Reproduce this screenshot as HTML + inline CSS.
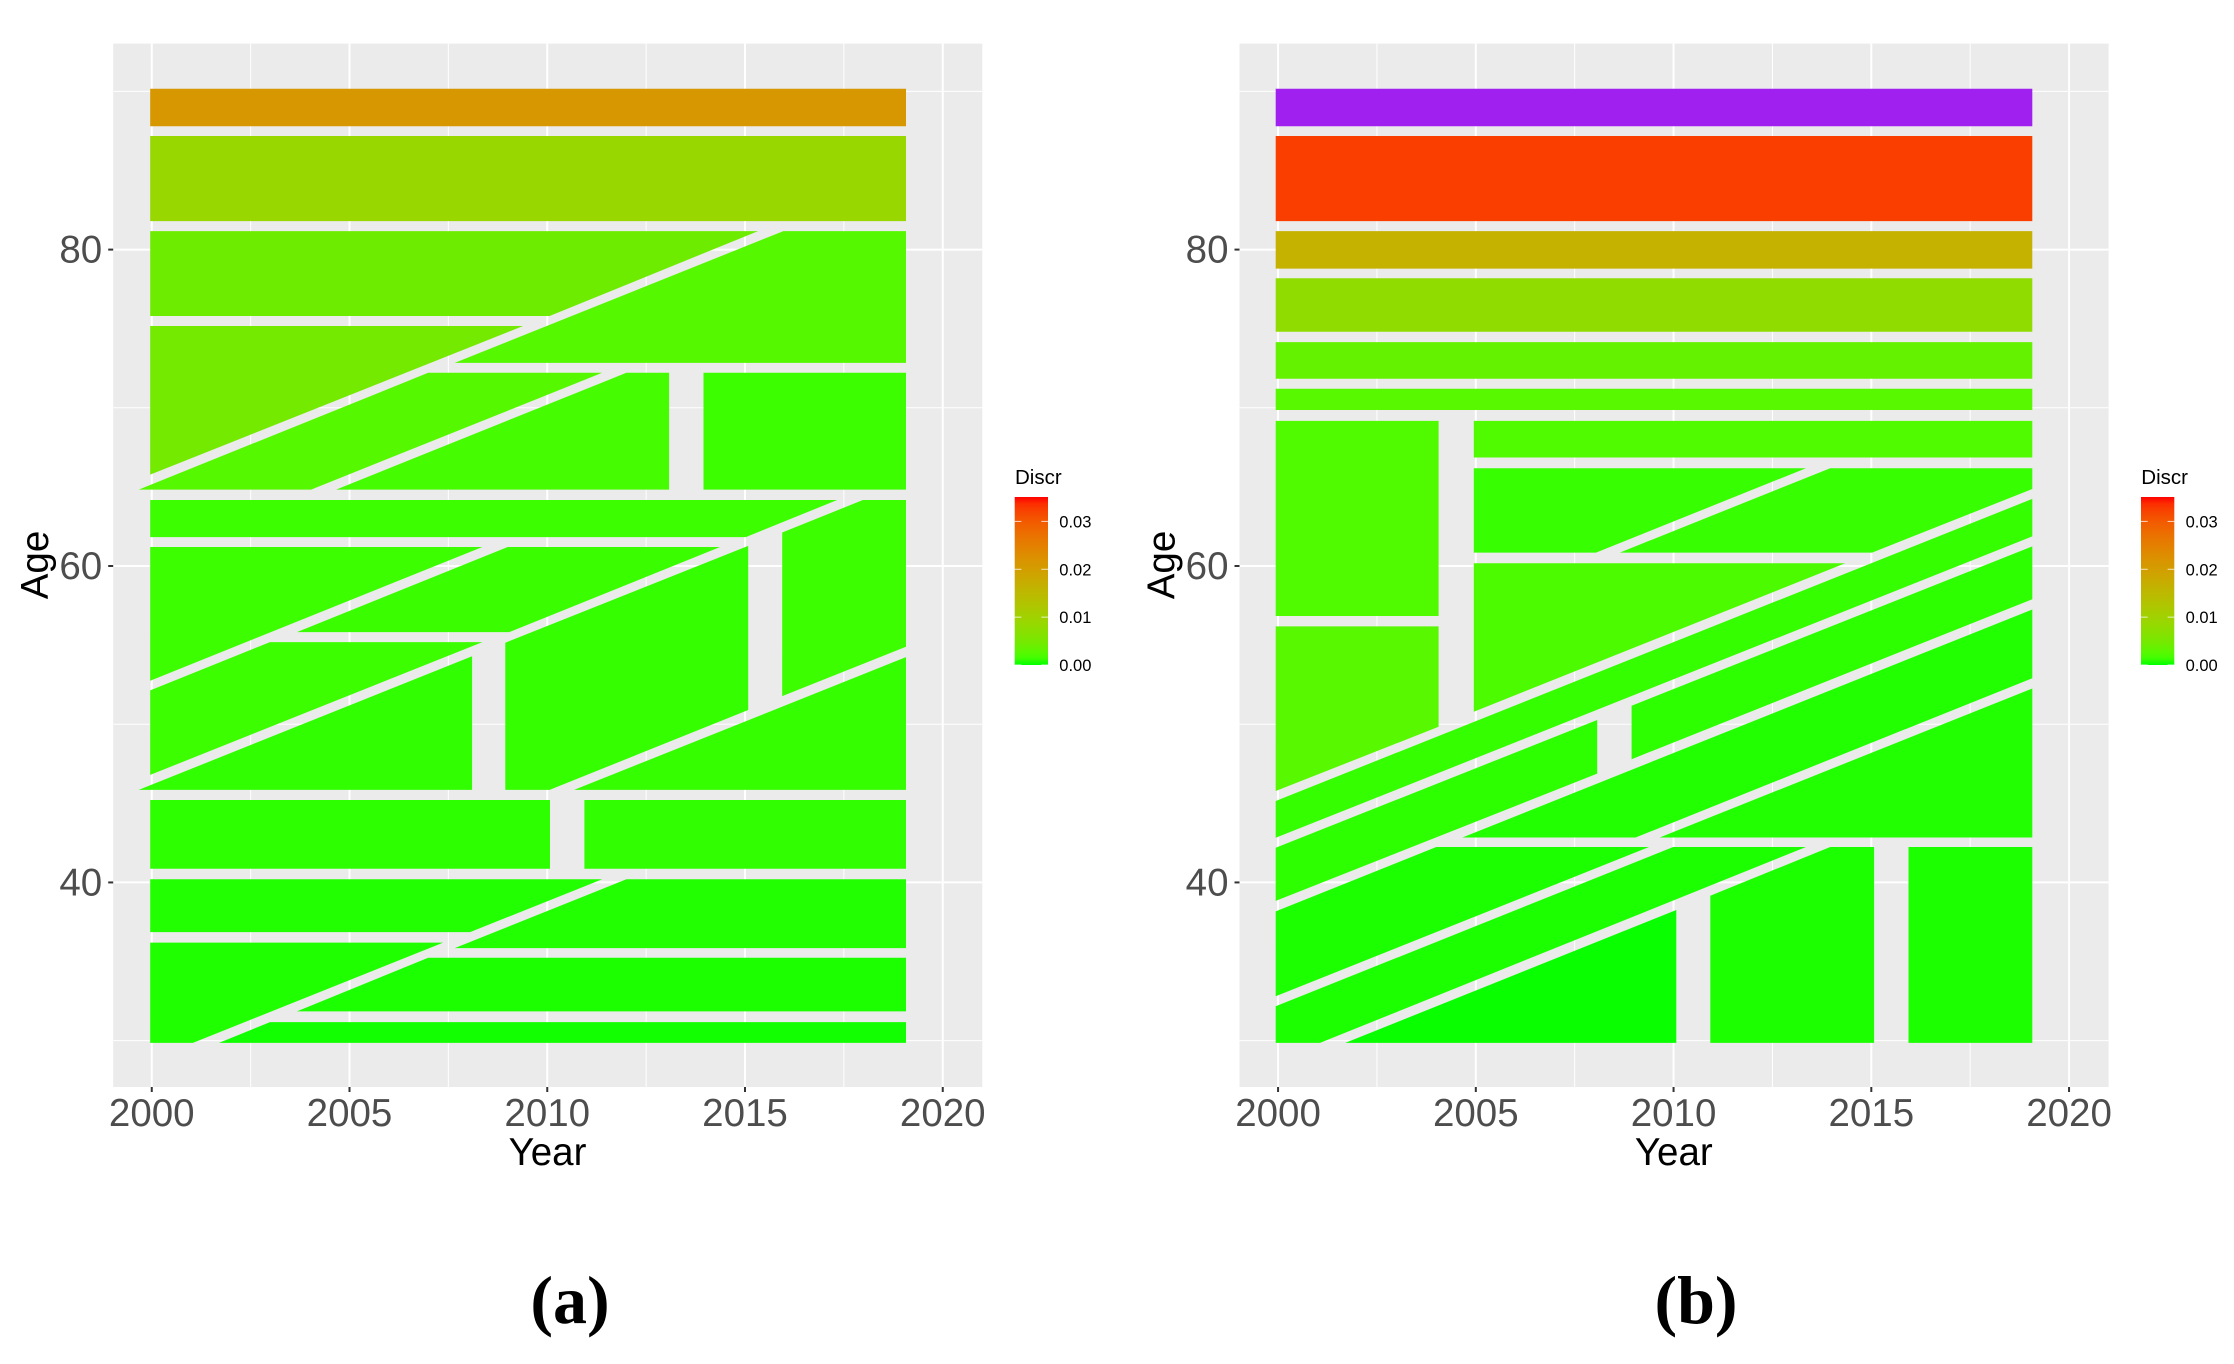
<!DOCTYPE html>
<html lang="en">
<head>
<meta charset="utf-8">
<title>Discrepancy by Year and Age</title>
<style>
html,body{margin:0;padding:0;background:#fff;}
svg{display:block;font-family:"Liberation Sans",Arial,sans-serif;}
.axis-title{font-size:38.5px;fill:#000;}
.tick-label{font-size:38.5px;fill:#4d4d4d;}
.legend-title{font-size:20.5px;fill:#000;}
.legend-label{font-size:16.5px;fill:#000;}
.caption{font-family:"Liberation Serif",serif;font-weight:bold;font-size:68px;fill:#000;}
</style>
</head>
<body>
<svg id="figure" xmlns="http://www.w3.org/2000/svg" width="2234" height="1364" viewBox="0 0 2234 1364">
  <rect x="0" y="0" width="2234" height="1364" fill="#ffffff"/>
  <g id="chart-a"></g>
  <g id="chart-b"></g>
  <text class="axis-title" x="547.5" y="1165" text-anchor="middle">Year</text>
  <text class="axis-title" transform="translate(48,565) rotate(-90)" text-anchor="middle">Age</text>
  <text class="legend-title" x="1015" y="484">Discr</text>
  <text class="caption" x="570" y="1323" text-anchor="middle">(a)</text>
  <text class="axis-title" x="1673.8" y="1165" text-anchor="middle">Year</text>
  <text class="axis-title" transform="translate(1174.3,565) rotate(-90)" text-anchor="middle">Age</text>
  <text class="legend-title" x="2141.3" y="484">Discr</text>
  <text class="caption" x="1696" y="1323" text-anchor="middle">(b)</text>
</svg>
<script>
// ---------- tick values ----------
const yearTicks = [2000, 2005, 2010, 2015, 2020];
const yearMinorTicks = [2002.5, 2007.5, 2012.5, 2017.5];
const ageTicks = [40, 60, 80];
const ageMinorTicks = [30, 50, 70, 90];
const legendBreaks = [0, 0.01, 0.02, 0.03];
const legendBreakLabels = ['0.00', '0.01', '0.02', '0.03'];
const discrMax = 0.0351;

// ---------- panel (a): regions as [year, age] vertices, with Discr values ----------
const regionsA = [
  [[1999.96,90.16],[2019.07,90.16],[2019.07,87.8],[1999.96,87.8]],
  [[1999.96,87.18],[2019.07,87.18],[2019.07,81.8],[1999.96,81.8]],
  [[1999.96,81.17],[2015.33,81.17],[2010.06,75.8],[1999.96,75.8]],
  [[1999.96,75.17],[2009.39,75.17],[1999.96,65.78]],
  [[2015.97,81.17],[2019.07,81.17],[2019.07,72.84],[2007.66,72.84]],
  [[2006.99,72.21],[2011.39,72.21],[2004.03,64.83],[1999.67,64.83]],
  [[2012.0,72.21],[2013.08,72.21],[2013.08,64.83],[2004.66,64.83]],
  [[2013.95,72.21],[2019.07,72.21],[2019.07,64.83],[2013.95,64.83]],
  [[1999.96,64.17],[2017.33,64.17],[2015.02,61.83],[1999.96,61.83]],
  [[2017.98,64.17],[2019.07,64.17],[2019.07,54.9],[2015.94,51.78],[2015.94,62.12]],
  [[1999.96,61.2],[2008.36,61.2],[1999.96,52.75]],
  [[2009.0,61.2],[2014.37,61.2],[2009.04,55.82],[2003.67,55.82]],
  [[2015.08,61.27],[2015.08,50.9],[2010.06,45.85],[2008.94,45.85],[2008.94,55.15]],
  [[1999.96,52.14],[2002.99,55.19],[2008.36,55.19],[1999.96,46.8]],
  [[2008.1,54.3],[2008.1,45.85],[1999.67,45.85]],
  [[2019.07,54.24],[2019.07,45.85],[2010.68,45.85]],
  [[1999.96,45.21],[2010.07,45.21],[2010.07,40.86],[1999.96,40.86]],
  [[2010.94,45.21],[2019.07,45.21],[2019.07,40.86],[2010.94,40.86]],
  [[1999.96,40.2],[2011.39,40.2],[2008.05,36.86],[1999.96,36.86]],
  [[2012.0,40.2],[2019.07,40.2],[2019.07,35.85],[2007.66,35.85]],
  [[1999.96,36.2],[2007.37,36.2],[2001.04,29.86],[1999.96,29.86]],
  [[2006.99,35.24],[2019.07,35.24],[2019.07,31.85],[2003.67,31.85]],
  [[2002.99,31.17],[2019.07,31.17],[2019.07,29.86],[2001.7,29.86]]
];
const discrA = [0.0211,0.0088,0.0042,0.0046,0.0025,0.0025,0.0016,0.0012,0.0012,0.0012,0.0012,0.0011,0.0009,0.0012,0.0008,0.0009,0.0007,0.0008,0.0004,0.0004,0.00035,0.0003,0.00015];

// ---------- panel (b): regions as [year, age] vertices, with Discr values (null = out of range) ----------
const regionsB = [
  [[1999.94,90.16],[2019.07,90.16],[2019.07,87.8],[1999.94,87.8]],
  [[1999.94,87.18],[2019.07,87.18],[2019.07,81.8],[1999.94,81.8]],
  [[1999.94,81.17],[2019.07,81.17],[2019.07,78.8],[1999.94,78.8]],
  [[1999.94,78.19],[2019.07,78.19],[2019.07,74.81],[1999.94,74.81]],
  [[1999.94,74.15],[2019.07,74.15],[2019.07,71.83],[1999.94,71.83]],
  [[1999.94,71.2],[2019.07,71.2],[2019.07,69.86],[1999.94,69.86]],
  [[1999.94,69.17],[2004.06,69.17],[2004.06,56.84],[1999.94,56.84]],
  [[2004.95,69.17],[2019.07,69.17],[2019.07,66.86],[2004.95,66.86]],
  [[2004.95,66.18],[2013.35,66.18],[2008.04,60.85],[2004.95,60.85]],
  [[2013.96,66.18],[2019.07,66.18],[2019.07,64.87],[2015.02,60.85],[2008.64,60.85]],
  [[2004.95,60.17],[2014.34,60.17],[2004.95,50.79]],
  [[1999.94,56.18],[2004.06,56.18],[2004.06,49.84],[1999.94,45.78]],
  [[1999.94,45.15],[2019.07,64.24],[2019.07,61.87],[1999.94,42.82]],
  [[1999.94,42.19],[2008.07,50.27],[2008.07,46.88],[1999.94,38.83]],
  [[2008.94,51.17],[2019.07,61.24],[2019.07,57.9],[2008.94,47.79]],
  [[2004.66,42.84],[2019.07,57.25],[2019.07,52.91],[2009.04,42.84]],
  [[1999.94,38.17],[2004.0,42.24],[2009.38,42.24],[1999.94,32.8]],
  [[2019.07,52.26],[2019.07,42.84],[2009.65,42.84]],
  [[1999.94,32.17],[2009.99,42.24],[2013.35,42.24],[2001.06,29.86],[1999.94,29.86]],
  [[2001.7,29.86],[2010.07,38.26],[2010.07,29.86]],
  [[2010.93,39.16],[2013.96,42.24],[2015.07,42.24],[2015.07,29.86],[2010.93,29.86]],
  [[2015.94,42.24],[2019.07,42.24],[2019.07,29.86],[2015.94,29.86]]
];
const discrB = [null,0.0326,0.0165,0.0077,0.0035,0.0026,0.0021,0.0021,0.001,0.001,0.0019,0.0026,0.0009,0.0007,0.0007,0.0004,0.0003,0.0004,0.0003,0.00007,0.0003,0.0003];

// ---------- colour scale: green to red through Lab, purple for missing ----------
const lowLab = [87.74, -86.18, 83.18];
const highLab = [53.24, 80.09, 67.2];
const naColor = '#a020f0';
function srgbByte(v) {
  const c = Math.max(0, Math.min(1, v));
  const s = c <= 0.0031308 ? 12.92 * c : 1.055 * Math.pow(c, 1 / 2.4) - 0.055;
  return Math.round(s * 255);
}
function colorFor(discr) {
  if (discr === null) return naColor;
  const t = Math.max(0, Math.min(1, discr / discrMax));
  const L = lowLab[0] + t * (highLab[0] - lowLab[0]);
  const a = lowLab[1] + t * (highLab[1] - lowLab[1]);
  const b = lowLab[2] + t * (highLab[2] - lowLab[2]);
  const fy = (L + 16) / 116, fx = fy + a / 500, fz = fy - b / 200;
  const inv = f => f * f * f > 0.008856 ? f * f * f : (f - 16 / 116) / 7.787;
  const X = 0.95047 * inv(fx), Y = inv(fy), Z = 1.08883 * inv(fz);
  const r = 3.2406 * X - 1.5372 * Y - 0.4986 * Z;
  const g = -0.9689 * X + 1.8758 * Y + 0.0415 * Z;
  const bl = 0.0557 * X - 0.204 * Y + 1.057 * Z;
  const green = srgbByte(g);
  const lift = Math.max(0, 1 - t / 0.12);
  return 'rgb(' + srgbByte(r) + ',' + Math.round(green + (255 - green) * lift) + ',0)';
}

const NS = 'http://www.w3.org/2000/svg';
function make(parent, tag, attrs, text) {
  const el = document.createElementNS(NS, tag);
  for (const k in attrs) el.setAttribute(k, attrs[k]);
  if (text !== undefined) el.textContent = text;
  parent.appendChild(el);
  return el;
}

function drawChart(root, id, offset, regions, discr) {
  const panelLeft = 113.2 + offset, panelRight = 982.3 + offset, panelTop = 43.6, panelBottom = 1087;
  const xDomain = [1999.025, 2021], yDomain = [27.07, 93.02];
  const xScale = v => panelLeft + (v - xDomain[0]) / (xDomain[1] - xDomain[0]) * (panelRight - panelLeft);
  const yScale = v => panelBottom - (v - yDomain[0]) / (yDomain[1] - yDomain[0]) * (panelBottom - panelTop);

  const bg = make(root, 'rect', {x: panelLeft, y: panelTop, width: panelRight - panelLeft, height: panelBottom - panelTop, fill: '#ebebeb'});
  
  

  yearMinorTicks.forEach(v => {
    const l = make(root, 'line', {x1: xScale(v), x2: xScale(v), y1: panelTop, y2: panelBottom, stroke: '#fff', 'stroke-width': 1});
    
    
  });
  ageMinorTicks.forEach(v => {
    const l = make(root, 'line', {x1: panelLeft, x2: panelRight, y1: yScale(v), y2: yScale(v), stroke: '#fff', 'stroke-width': 1});
    
    
  });
  yearTicks.forEach(v => {
    const l = make(root, 'line', {x1: xScale(v), x2: xScale(v), y1: panelTop, y2: panelBottom, stroke: '#fff', 'stroke-width': 2});
    
    
  });
  ageTicks.forEach(v => {
    const l = make(root, 'line', {x1: panelLeft, x2: panelRight, y1: yScale(v), y2: yScale(v), stroke: '#fff', 'stroke-width': 2});
    
    
  });

  regions.forEach((verts, i) => {
    const pts = verts.map(p => xScale(p[0]).toFixed(1) + ',' + yScale(p[1]).toFixed(1)).join(' ');
    const poly = make(root, 'polygon', {points: pts, fill: colorFor(discr[i])});
    
    
  });

  yearTicks.forEach(v => {
    const t = make(root, 'line', {x1: xScale(v), x2: xScale(v), y1: panelBottom, y2: panelBottom + 5, stroke: '#333', 'stroke-width': 2});
    
    
    const lab = make(root, 'text', {class: 'tick-label', x: xScale(v), y: 1126, 'text-anchor': 'middle'}, String(v));
    
    
  });
  ageTicks.forEach(v => {
    const t = make(root, 'line', {x1: panelLeft - 5, x2: panelLeft, y1: yScale(v), y2: yScale(v), stroke: '#333', 'stroke-width': 2});
    
    
    const lab = make(root, 'text', {class: 'tick-label', x: panelLeft - 11, y: yScale(v) + 13, 'text-anchor': 'end'}, String(v));
    
    
  });

  // colour bar
  const barLeft = 1014.7 + offset, barRight = 1048 + offset, barTop = 497, barBottom = 665;
  const legendY = v => barBottom - v / discrMax * (barBottom - barTop);
  const defs = make(root, 'defs', {});
  const gradId = 'legend-gradient-' + id;
  const grad = make(defs, 'linearGradient', {id: gradId, x1: 0, y1: 1, x2: 0, y2: 0});
  for (let s = 0; s <= 24; s++) {
    make(grad, 'stop', {offset: s / 24, 'stop-color': colorFor(s / 24 * discrMax)});
  }
  const bar = make(root, 'rect', {x: barLeft, y: barTop, width: barRight - barLeft, height: barBottom - barTop, fill: 'url(#' + gradId + ')'});
  
  
  legendBreaks.forEach((v, i) => {
    const y = legendY(v);
    const left = make(root, 'line', {x1: barLeft, x2: barLeft + 6.7, y1: y, y2: y, stroke: '#fff', 'stroke-opacity': 0.75, 'stroke-width': 1});
    
    
    const right = make(root, 'line', {x1: barRight - 6.7, x2: barRight, y1: y, y2: y, stroke: '#fff', 'stroke-opacity': 0.75, 'stroke-width': 1});
    
    
    const lab = make(root, 'text', {class: 'legend-label', x: barRight + 11.3, y: y + 6}, legendBreakLabels[i]);
    
    
  });
}

drawChart(document.getElementById('chart-a'), 'a', 0, regionsA, discrA);
drawChart(document.getElementById('chart-b'), 'b', 1126.3, regionsB, discrB);
</script>
</body>
</html>
